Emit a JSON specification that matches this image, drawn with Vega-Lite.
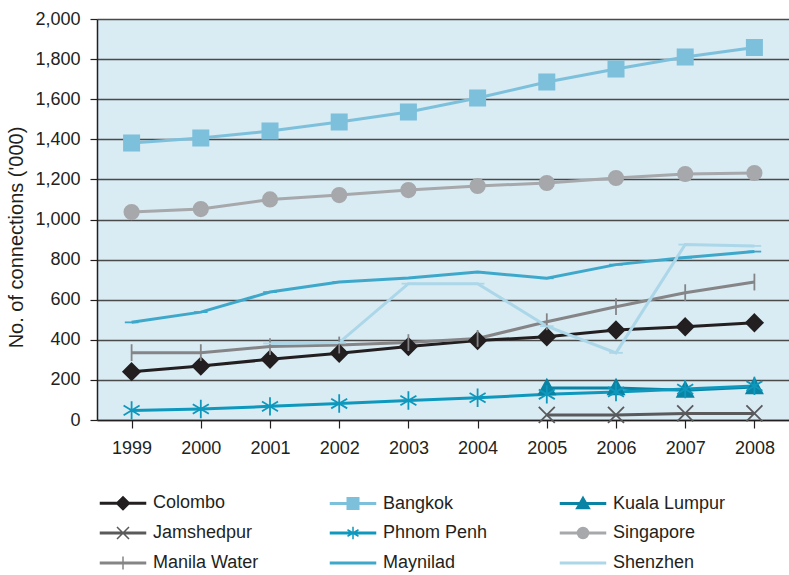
{
  "$schema": "https://vega.github.io/schema/vega-lite/v6.json",
  "width": 692,
  "height": 401,
  "autosize": "none",
  "padding": {"left": 97, "top": 19, "right": 0, "bottom": 155},
  "background": "white",
  "config": {
    "view": {"fill": "#d9ebf3", "stroke": null},
    "font": "Liberation Sans",
    "axis": {"labelFont": "Liberation Sans", "titleFont": "Liberation Sans"},
    "legend": {"labelFont": "Liberation Sans"}
  },
  "resolve": {"legend": {"color": "independent"}},
  "data": {
    "values": [
      {"series": "Colombo", "year": "1999", "value": 241},
      {"series": "Colombo", "year": "2000", "value": 269},
      {"series": "Colombo", "year": "2001", "value": 303},
      {"series": "Colombo", "year": "2002", "value": 333},
      {"series": "Colombo", "year": "2003", "value": 366},
      {"series": "Colombo", "year": "2004", "value": 396},
      {"series": "Colombo", "year": "2005", "value": 415},
      {"series": "Colombo", "year": "2006", "value": 449},
      {"series": "Colombo", "year": "2007", "value": 465},
      {"series": "Colombo", "year": "2008", "value": 485},
      {"series": "Bangkok", "year": "1999", "value": 1382},
      {"series": "Bangkok", "year": "2000", "value": 1406},
      {"series": "Bangkok", "year": "2001", "value": 1441},
      {"series": "Bangkok", "year": "2002", "value": 1486},
      {"series": "Bangkok", "year": "2003", "value": 1536},
      {"series": "Bangkok", "year": "2004", "value": 1606},
      {"series": "Bangkok", "year": "2005", "value": 1686},
      {"series": "Bangkok", "year": "2006", "value": 1751},
      {"series": "Bangkok", "year": "2007", "value": 1810},
      {"series": "Bangkok", "year": "2008", "value": 1858},
      {"series": "Kuala Lumpur", "year": "2005", "value": 160},
      {"series": "Kuala Lumpur", "year": "2006", "value": 160},
      {"series": "Kuala Lumpur", "year": "2007", "value": 148},
      {"series": "Kuala Lumpur", "year": "2008", "value": 165},
      {"series": "Jamshedpur", "year": "2005", "value": 25},
      {"series": "Jamshedpur", "year": "2006", "value": 25},
      {"series": "Jamshedpur", "year": "2007", "value": 33},
      {"series": "Jamshedpur", "year": "2008", "value": 33},
      {"series": "Phnom Penh", "year": "1999", "value": 48},
      {"series": "Phnom Penh", "year": "2000", "value": 55},
      {"series": "Phnom Penh", "year": "2001", "value": 68},
      {"series": "Phnom Penh", "year": "2002", "value": 82},
      {"series": "Phnom Penh", "year": "2003", "value": 97},
      {"series": "Phnom Penh", "year": "2004", "value": 111},
      {"series": "Phnom Penh", "year": "2005", "value": 128},
      {"series": "Phnom Penh", "year": "2006", "value": 140},
      {"series": "Phnom Penh", "year": "2007", "value": 154},
      {"series": "Phnom Penh", "year": "2008", "value": 170},
      {"series": "Singapore", "year": "1999", "value": 1037},
      {"series": "Singapore", "year": "2000", "value": 1052},
      {"series": "Singapore", "year": "2001", "value": 1100},
      {"series": "Singapore", "year": "2002", "value": 1122},
      {"series": "Singapore", "year": "2003", "value": 1147},
      {"series": "Singapore", "year": "2004", "value": 1167},
      {"series": "Singapore", "year": "2005", "value": 1182},
      {"series": "Singapore", "year": "2006", "value": 1207},
      {"series": "Singapore", "year": "2007", "value": 1227},
      {"series": "Singapore", "year": "2008", "value": 1232},
      {"series": "Manila Water", "year": "1999", "value": 336},
      {"series": "Manila Water", "year": "2000", "value": 336},
      {"series": "Manila Water", "year": "2001", "value": 366},
      {"series": "Manila Water", "year": "2002", "value": 374},
      {"series": "Manila Water", "year": "2003", "value": 386},
      {"series": "Manila Water", "year": "2004", "value": 407},
      {"series": "Manila Water", "year": "2005", "value": 490},
      {"series": "Manila Water", "year": "2006", "value": 565},
      {"series": "Manila Water", "year": "2007", "value": 635},
      {"series": "Manila Water", "year": "2008", "value": 688},
      {"series": "Maynilad", "year": "1999", "value": 487},
      {"series": "Maynilad", "year": "2000", "value": 538},
      {"series": "Maynilad", "year": "2001", "value": 638},
      {"series": "Maynilad", "year": "2002", "value": 688},
      {"series": "Maynilad", "year": "2003", "value": 708},
      {"series": "Maynilad", "year": "2004", "value": 738},
      {"series": "Maynilad", "year": "2005", "value": 707},
      {"series": "Maynilad", "year": "2006", "value": 775},
      {"series": "Maynilad", "year": "2007", "value": 810},
      {"series": "Maynilad", "year": "2008", "value": 840},
      {"series": "Shenzhen", "year": "2001", "value": 382},
      {"series": "Shenzhen", "year": "2002", "value": 386},
      {"series": "Shenzhen", "year": "2003", "value": 680},
      {"series": "Shenzhen", "year": "2004", "value": 680},
      {"series": "Shenzhen", "year": "2005", "value": 468},
      {"series": "Shenzhen", "year": "2006", "value": 335},
      {"series": "Shenzhen", "year": "2007", "value": 875},
      {"series": "Shenzhen", "year": "2008", "value": 868}
    ]
  },
  "encoding": {
    "x": {
      "field": "year", "type": "ordinal",
      "scale": {"type": "point", "padding": 0.5},
      "axis": {
        "title": null, "labelAngle": 0, "labelFontSize": 18, "labelColor": "#231f20",
        "tickSize": 8, "tickColor": "#231f20", "tickWidth": 1.2, "domainColor": "#231f20", "domainWidth": 1.5,
        "labelPadding": 11, "grid": false
      }
    },
    "y": {
      "field": "value", "type": "quantitative",
      "scale": {"domain": [0, 2000], "nice": false},
      "axis": {
        "title": "No. of connections ('000)", "titleFontSize": 20, "titleFontWeight": "normal", "titleColor": "#231f20",
        "titleX": -71, "titleY": 218,
        "values": [0, 200, 400, 600, 800, 1000, 1200, 1400, 1600, 1800, 2000],
        "format": ",.0f", "labelFontSize": 18, "labelColor": "#231f20",
        "tickSize": 7, "tickColor": "#231f20", "tickWidth": 1.2, "domainColor": "#231f20", "domainWidth": 1.5,
        "labelPadding": 10, "grid": true, "gridColor": "#4a4a4a", "gridWidth": 1.3
      }
    },
    "color": {
      "field": "series", "type": "nominal",
      "scale": {
        "domain": ["Colombo", "Bangkok", "Kuala Lumpur", "Jamshedpur", "Phnom Penh", "Singapore", "Manila Water", "Maynilad", "Shenzhen"],
        "range": ["#231f20", "#7dc0dc", "#0a84a5", "#5a5a5c", "#0e98bd", "#a6a8ab", "#858587", "#3ea8cb", "#abd7e9"]
      },
      "legend": null
    }
  },
  "layer": [
    {
      "mark": {"type": "line"},
      "encoding": {
        "strokeWidth": {"value": 3},
        "color": {
          "field": "series", "type": "nominal",
          "scale": {
            "domain": ["Colombo", "Bangkok", "Kuala Lumpur", "Jamshedpur", "Phnom Penh", "Singapore", "Manila Water", "Maynilad", "Shenzhen"],
            "range": ["#231f20", "#7dc0dc", "#0a84a5", "#5a5a5c", "#0e98bd", "#a6a8ab", "#858587", "#3ea8cb", "#abd7e9"]
          },
          "legend": {
            "title": null, "orient": "none", "legendX": 3, "legendY": 475, "columns": 3, "direction": "horizontal",
            "columnPadding": 61, "rowPadding": 10, "gridAlign": "all",
            "labelFontSize": 18, "labelColor": "#231f20", "symbolSize": 100,
            "symbolOffset": 14, "labelOffset": 21,
            "symbolStrokeWidth": 1.5, "symbolOpacity": 1,
            "symbolFillColor": {"expr": "scale('color', datum.value)"},
            "symbolType": {"expr": "['M-4.5,-0.15L4.5,-0.15L4.5,0.15L-4.5,0.15ZM0,-1.3L1.3,0L0,1.3L-1.3,0Z', 'M-4.5,-0.15L4.5,-0.15L4.5,0.15L-4.5,0.15ZM-1.15,-1.15L1.15,-1.15L1.15,1.15L-1.15,1.15Z', 'M-4.5,-0.15L4.5,-0.15L4.5,0.15L-4.5,0.15ZM0,-1.3L1.3,1L-1.3,1Z', 'M-4.5,-0.15L4.5,-0.15L4.5,0.15L-4.5,0.15ZM-1.2,-1.2L1.2,1.2M-1.2,1.2L1.2,-1.2', 'M-4.5,-0.15L4.5,-0.15L4.5,0.15L-4.5,0.15ZM0,-1.25L0,1.25M-1.1,-0.65L1.1,0.65M-1.1,0.65L1.1,-0.65', 'M-4.5,-0.15L4.5,-0.15L4.5,0.15L-4.5,0.15ZM-1.1,0A1.1,1.1,0,1,1,1.1,0A1.1,1.1,0,1,1,-1.1,0Z', 'M-4.5,-0.15L4.5,-0.15L4.5,0.15L-4.5,0.15ZM0,-1.3L0,1.3', 'M-4.5,-0.15L4.5,-0.15L4.5,0.15L-4.5,0.15Z', 'M-4.5,-0.15L4.5,-0.15L4.5,0.15L-4.5,0.15Z'][indexof(['Colombo', 'Bangkok', 'Kuala Lumpur', 'Jamshedpur', 'Phnom Penh', 'Singapore', 'Manila Water', 'Maynilad', 'Shenzhen'], datum.value)]"}
          }
        }
      }
    },
    {
      "mark": {"type": "point", "filled": true, "opacity": 1, "strokeWidth": 1.8, "size": 256},
      "encoding": {
        "stroke": {
          "field": "series", "type": "nominal", "legend": null,
          "scale": {
            "domain": ["Colombo", "Bangkok", "Kuala Lumpur", "Jamshedpur", "Phnom Penh", "Singapore", "Manila Water", "Maynilad", "Shenzhen"],
            "range": ["#231f20", "#7dc0dc", "#0a84a5", "#5a5a5c", "#0e98bd", "#a6a8ab", "#858587", "#3ea8cb", "#abd7e9"]
          }
        },
        "shape": {
          "field": "series", "type": "nominal", "legend": null,
          "scale": {
            "domain": ["Colombo", "Bangkok", "Kuala Lumpur", "Jamshedpur", "Phnom Penh", "Singapore", "Manila Water", "Maynilad", "Shenzhen"],
            "range": [
              "M0,-1.05L1.05,0L0,1.05L-1.05,0Z",
              "M-0.95,-0.95L0.95,-0.95L0.95,0.95L-0.95,0.95Z",
              "M0,-1.05L1,0.8L-1,0.8Z",
              "M-1,-1L1,1M-1,1L1,-1",
              "M0,-1.15L0,1.15M-1,-0.6L1,0.6M-1,0.6L1,-0.6",
              "M-0.9,0A0.9,0.9,0,1,0,0.9,0A0.9,0.9,0,1,0,-0.9,0Z",
              "M0,-1.05L0,1.05",
              "M-0.85,0L0.85,0",
              "M-0.85,0L0.85,0"
            ]
          }
        }
      }
    }
  ]
}
